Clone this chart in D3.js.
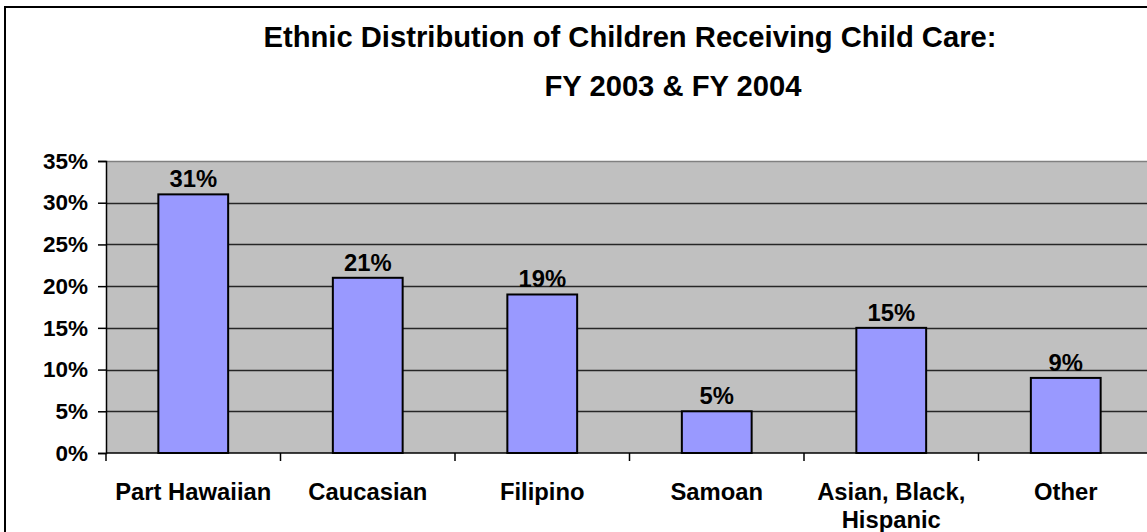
<!DOCTYPE html>
<html>
<head>
<meta charset="utf-8">
<script src="https://cdn.jsdelivr.net/npm/d3@7"></script>
<style>
  html, body { margin: 0; padding: 0; background: #fff; overflow: hidden; }
  svg { display: block; }
  text { font-family: "Liberation Sans", Arial, sans-serif; font-weight: bold; fill: #000; }
</style>
</head>
<body>
<svg id="chart" width="1147" height="532"></svg>
<script>
// Ethnic distribution of children receiving child care, FY 2003 & FY 2004
const categories = ["Part Hawaiian", "Caucasian", "Filipino", "Samoan", "Asian, Black,\nHispanic", "Other"];
const values = [31, 21, 19, 5, 15, 9];
const yTicks = [0, 5, 10, 15, 20, 25, 30, 35];
const titleLines = ["Ethnic Distribution of Children Receiving Child Care:", "FY 2003 & FY 2004"];

const svg = d3.select("#chart");
const W = 1147, H = 532;

// plot area bounds (the right edge runs just past the frame)
const plot = { left: 106, right: 1153, top: 161, bottom: 453 };

// outer chart frame
svg.append("rect")
  .attr("x", 5).attr("y", 7)
  .attr("width", W + 20).attr("height", H + 20)
  .attr("fill", "#fff").attr("stroke", "#000").attr("stroke-width", 2);

// title
const titleX = [630, 673];
const titleY = [47, 96];
svg.selectAll("text.title")
  .data(titleLines)
  .join("text")
  .attr("class", "title")
  .attr("x", (d, i) => titleX[i])
  .attr("y", (d, i) => titleY[i])
  .attr("text-anchor", "middle")
  .style("font-size", "29.2px")
  .text(d => d);

const x = d3.scaleBand()
  .domain(categories)
  .range([plot.left, plot.right])
  .paddingInner(0.6)
  .paddingOuter(0.3);

const y = d3.scaleLinear()
  .domain([0, 35])
  .range([plot.bottom, plot.top]);

// gray plot background
svg.append("rect")
  .attr("x", plot.left).attr("y", plot.top)
  .attr("width", plot.right - plot.left).attr("height", plot.bottom - plot.top)
  .attr("fill", "#c0c0c0");

// horizontal gridlines
svg.append("g")
  .selectAll("line")
  .data(yTicks.filter(t => t > 0))
  .join("line")
  .attr("x1", plot.left).attr("x2", plot.right)
  .attr("y1", d => Math.round(y(d)) + 0.5).attr("y2", d => Math.round(y(d)) + 0.5)
  .attr("stroke", d => d === 35 ? "#808080" : "#262626")
  .attr("stroke-width", 1.5);

// bars
svg.append("g")
  .selectAll("rect")
  .data(values)
  .join("rect")
  .attr("x", (d, i) => x(categories[i]))
  .attr("y", d => y(d))
  .attr("width", x.bandwidth())
  .attr("height", d => y(0) - y(d))
  .attr("fill", "#9999ff")
  .attr("stroke", "#000")
  .attr("stroke-width", 2);

// value labels
svg.append("g")
  .selectAll("text")
  .data(values)
  .join("text")
  .attr("x", (d, i) => x(categories[i]) + x.bandwidth() / 2)
  .attr("y", d => y(d) - 7)
  .attr("text-anchor", "middle")
  .style("font-size", "23.8px")
  .text(d => d + "%");

// y axis
const yAxis = d3.axisLeft(y)
  .tickValues(yTicks)
  .tickSize(8)
  .tickPadding(10)
  .tickFormat(d => d + "%");
const yg = svg.append("g")
  .attr("transform", `translate(${plot.left},0)`)
  .call(yAxis);
yg.select(".domain").attr("stroke", "#000").attr("stroke-width", 1.5);
yg.selectAll(".tick line").attr("stroke", "#000").attr("stroke-width", 1.5);
yg.selectAll(".tick text")
  .style("font-size", "22.5px")
  .style("font-family", "'Liberation Sans', Arial, sans-serif")
  .style("font-weight", "bold")
  .attr("fill", "#000");

// x axis: ticks sit between categories
const bounds = d3.range(categories.length + 1).map(i => plot.left + i * x.step());
svg.append("line")
  .attr("x1", plot.left).attr("x2", plot.right)
  .attr("y1", plot.bottom).attr("y2", plot.bottom)
  .attr("stroke", "#000").attr("stroke-width", 1.5);
svg.append("g")
  .selectAll("line")
  .data(bounds)
  .join("line")
  .attr("x1", d => d).attr("x2", d => d)
  .attr("y1", plot.bottom).attr("y2", plot.bottom + 8)
  .attr("stroke", "#000").attr("stroke-width", 1.5);

// category labels, wrapped on line breaks
const xl = svg.append("g")
  .selectAll("text")
  .data(categories)
  .join("text")
  .attr("x", d => x(d) + x.bandwidth() / 2)
  .attr("y", 500)
  .attr("text-anchor", "middle")
  .style("font-size", "23.8px");
xl.each(function(d) {
  const t = d3.select(this);
  d.split("\n").forEach((line, i) => {
    t.append("tspan")
      .attr("x", t.attr("x"))
      .attr("dy", i === 0 ? 0 : 28)
      .text(line);
  });
});
</script>
</body>
</html>
